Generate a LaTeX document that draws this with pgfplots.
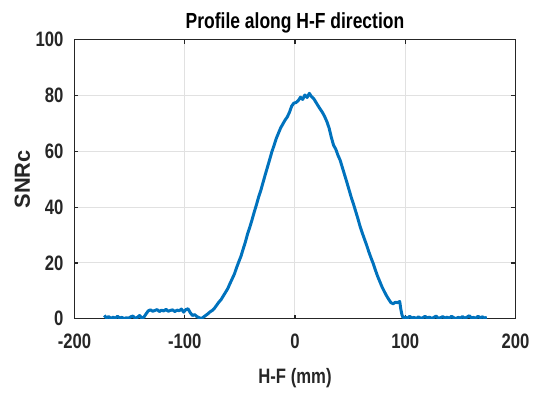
\documentclass[border=0pt]{standalone}
\usepackage{fontspec}
\setmainfont{Liberation Sans}[FakeStretch=0.8]
\newfontfamily\plainfont{Liberation Sans}
\usepackage{pgfplots}
\pgfplotsset{compat=1.18}
\definecolor{mblue}{RGB}{0,114,189}
\definecolor{axgray}{RGB}{38,38,38}
\definecolor{gridgray}{RGB}{225,225,225}
\begin{document}
\begin{tikzpicture}
\begin{axis}[
  scale only axis,
  width=222pt, height=140.5pt,
  xmin=-200, xmax=200, ymin=0, ymax=100,
  xtick={-200,-100,0,100,200},
  ytick={0,20,40,60,80,100},
  grid=major,
  grid style={gridgray, line width=0.5pt},
  axis line style={axgray, line width=0.6pt},
  tick style={axgray, line width=0.6pt},
  tick align=inside,
  major tick length=2pt,
  /pgf/number format/assume math mode=true,
  ticklabel style={font=\fontsize{10.5}{12}\selectfont\bfseries, text=axgray},
  xticklabel style={yshift=-4pt},
  yticklabel style={xshift=-2pt},
  title={Profile along H-F direction},
  title style={font=\fontsize{11}{13}\selectfont\bfseries, yshift=-6pt},
  xlabel={H-F (mm)},
  xlabel style={font=\fontsize{10.5}{12}\selectfont\bfseries, text=axgray, yshift=-3pt},
  ylabel={SNRc},
  ylabel style={font=\plainfont\fontsize{11}{13}\selectfont\bfseries, text=axgray},
  ylabel shift=-4pt,
]
\addplot[mblue, line width=1.5pt, line join=round] coordinates {
(-173,1.2) (-171,0.3) (-169,0.8) (-167,0.1) (-165,0.6) (-163,0.2) (-161,0.9) (-159,0.3)
(-157,0.5) (-155,0.1) (-153,0.4) (-151,0.2) (-149,0.7) (-147,1.0) (-145,0.2) (-143,0.5)
(-141,1.2) (-139,0.3) (-137,0.6) (-135,1.8) (-133,2.9) (-131,3.2) (-129,2.7) (-127,3.0)
(-125,3.3) (-123,2.6) (-121,3.1) (-119,2.8) (-117,3.4) (-115,2.7) (-113,3.0) (-111,3.2)
(-109,2.6) (-107,3.1) (-105,2.9) (-103,3.5) (-101,2.4) (-99,3.3) (-97,3.6) (-95,2.2)
(-93,1.2) (-91,1.5) (-89,0.8) (-87,0.4) (-85,0.1) (-83,0.6) (-81,1.2) (-79,1.8)
(-77,2.5) (-75,3.0) (-73,3.8) (-71,4.9) (-69,6.0) (-67,6.9) (-65,8.2) (-63,9.5)
(-61,10.8) (-59,12.6) (-57,14.3) (-55,16.0) (-53,18.3) (-51,20.4) (-49,22.4) (-47,25.0)
(-45,27.5) (-43,30.4) (-41,32.8) (-39,35.4) (-37,38.2) (-35,40.8) (-33,43.6) (-31,46.0)
(-29,48.8) (-27,51.6) (-25,54.3) (-23,57.0) (-21,59.8) (-19,62.1) (-17,64.6) (-15,66.5)
(-13,68.4) (-11,69.8) (-9,71.2) (-7,72.3) (-5,74.0) (-3,76.2) (-1,77.3) (1,77.5)
(3,78.2) (5,79.4) (7,78.6) (9,80.2) (11,79.3) (13,80.8) (15,79.6) (17,78.9)
(19,77.6) (21,76.3) (23,75.1) (25,73.9) (27,72.4) (29,70.6) (31,68.3) (33,65.0)
(35,62.2) (37,60.8) (39,58.6) (41,56.8) (43,54.2) (45,51.6) (47,49.0) (49,46.3)
(51,43.6) (53,41.2) (55,38.6) (57,36.0) (59,33.2) (61,30.8) (63,28.6) (65,26.4)
(67,24.0) (69,21.8) (71,19.8) (73,17.4) (75,15.2) (77,13.3) (79,11.4) (81,9.8)
(83,8.3) (85,7.0) (87,5.8) (89,5.4) (91,5.9) (93,5.8) (95,6.2) (96,3.5)
(97,1.5) (98,0.4) (100,0.6) (102,0.2) (104,0.9) (106,0.3) (108,0.5) (110,0.1)
(112,0.7) (114,0.2) (116,0.4) (118,0.9) (120,0.3) (122,0.6) (124,0.1) (126,0.5)
(128,1.0) (130,0.2) (132,0.4) (134,0.8) (136,0.3) (138,0.6) (140,0.2) (142,0.9)
(144,0.4) (146,0.1) (148,0.5) (150,0.3) (152,0.8) (154,0.2) (156,0.6) (158,1.1)
(160,0.3) (162,0.5) (164,0.2) (166,0.9) (168,0.4) (170,0.7) (172,0.3) (174,0.5)
};
\end{axis}
\path ([xshift=-37.5pt,yshift=-36.5pt]current axis.south west) rectangle ([xshift=8.5pt,yshift=20pt]current axis.north east);
\end{tikzpicture}
\end{document}
